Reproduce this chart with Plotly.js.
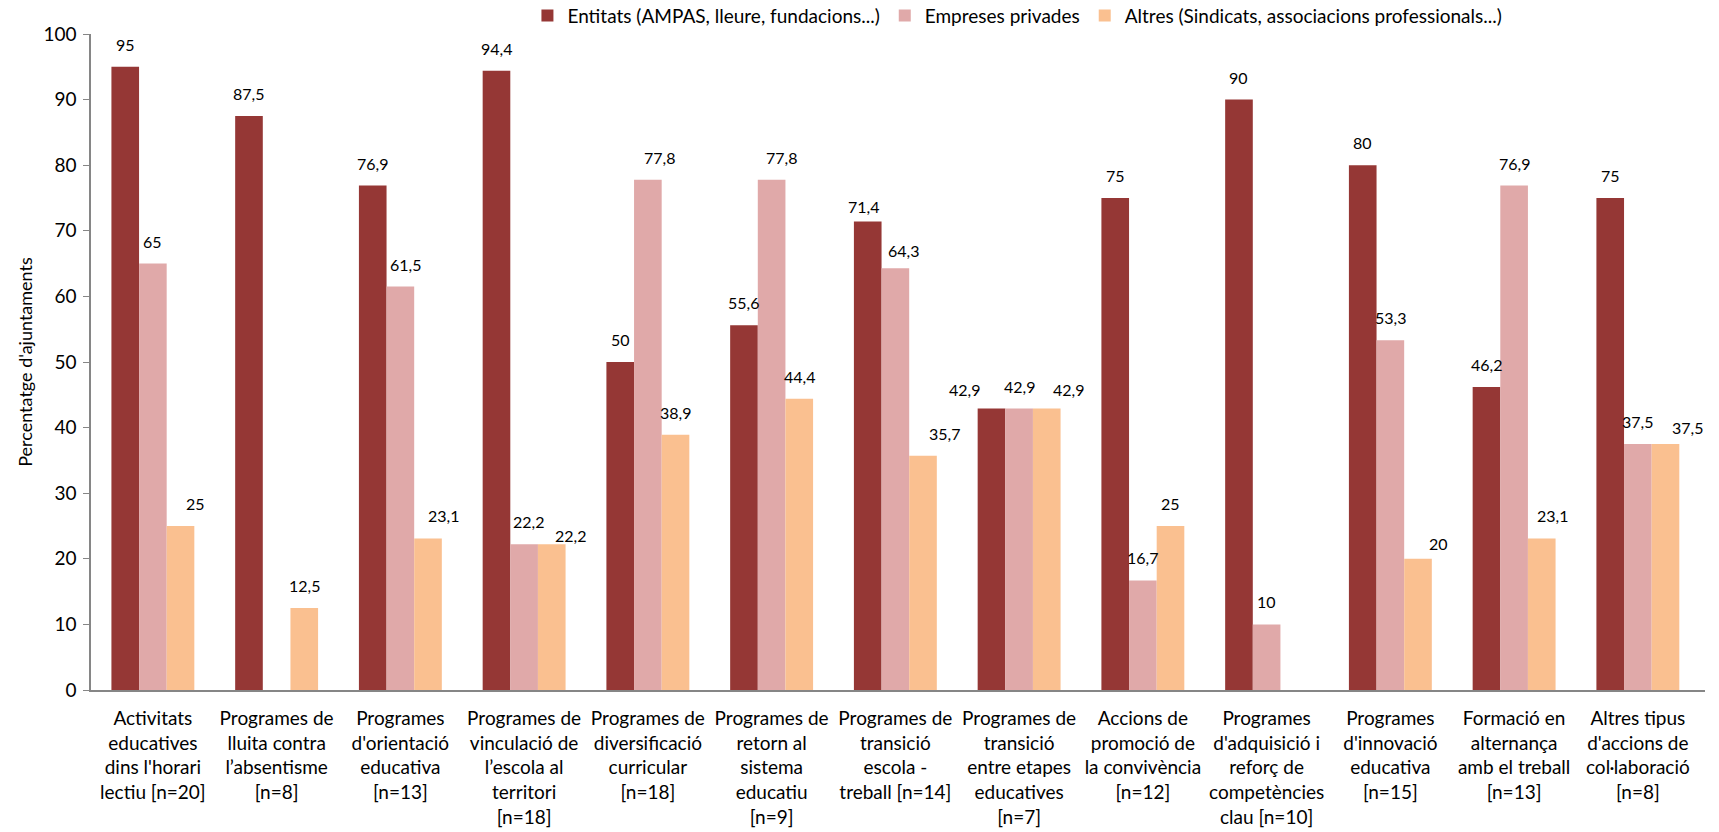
<!DOCTYPE html>
<html>
<head>
<meta charset="utf-8">
<script src="https://cdn.plot.ly/plotly-3.0.1.min.js"></script>
<style>html,body{margin:0;padding:0;background:#fff;}#chart{width:1719px;height:832px;}</style>
</head>
<body>
<div id="chart"></div>
<script>
const categories = [
  "Activitats<br>educatives<br>dins l'horari<br>lectiu [n=20]",
  "Programes de<br>lluita contra<br>l’absentisme<br>[n=8]",
  "Programes<br>d'orientació<br>educativa<br>[n=13]",
  "Programes de<br>vinculació de<br>l’escola al<br>territori<br>[n=18]",
  "Programes de<br>diversificació<br>curricular<br>[n=18]",
  "Programes de<br>retorn al<br>sistema<br>educatiu<br>[n=9]",
  "Programes de<br>transició<br>escola -<br>treball [n=14]",
  "Programes de<br>transició<br>entre etapes<br>educatives<br>[n=7]",
  "Accions de<br>promoció de<br>la convivència<br>[n=12]",
  "Programes<br>d'adquisició i<br>reforç de<br>competències<br>clau [n=10]",
  "Programes<br>d'innovació<br>educativa<br>[n=15]",
  "Formació en<br>alternança<br>amb el treball<br>[n=13]",
  "Altres tipus<br>d'accions de<br>col·laboració<br>[n=8]"
];
const seriesNames = [
  "Entitats (AMPAS, lleure, fundacions...)",
  "Empreses privades",
  "Altres (Sindicats, associacions professionals...)"
];
const entitats = [95, 87.5, 76.9, 94.4, 50, 55.6, 71.4, 42.9, 75, 90, 80, 46.2, 75];
const empreses = [65, null, 61.5, 22.2, 77.8, 77.8, 64.3, 42.9, 16.7, 10, 53.3, 76.9, 37.5];
const altres   = [25, 12.5, 23.1, 22.2, 38.9, 44.4, 35.7, 42.9, 25, null, 20, 23.1, 37.5];
const yTicks = [0, 10, 20, 30, 40, 50, 60, 70, 80, 90, 100];

// manual nudges of some data labels (pixels), keyed "category-series"
const labelNudge = {
  "0-2": [15, 0],
  "2-1": [5, 0], "2-2": [15, 0],
  "3-1": [4, 0], "3-2": [19, -14],
  "4-1": [12, 0],
  "5-1": [10, 0],
  "6-0": [-4, -7], "6-1": [8, -5], "6-2": [21, 0],
  "7-0": [-27, -3], "7-2": [22, -3],
  "10-2": [20, -7],
  "11-2": [11, 0],
  "12-2": [22, -6]
};

const colors = ["#953735", "#E0A9A9", "#FAC090"];
const FONT = "Lato, 'Open Sans', sans-serif";
const bargap = 0.33;
const allSeries = [entitats, empreses, altres];

const fmt = v => (v === null ? "" : String(v).replace(".", ","));

const traces = allSeries.map((vals, k) => ({
  type: "bar",
  name: seriesNames[k],
  x: categories,
  y: vals,
  marker: {color: colors[k], line: {width: 0}},
  hoverinfo: "y"
}));

const annotations = [];
allSeries.forEach((vals, k) => {
  vals.forEach((v, i) => {
    if (v === null) return;
    const n = labelNudge[i + "-" + k] || [0, 0];
    annotations.push({
      x: i + (k - 1) * (1 - bargap) / 3,
      y: v,
      xref: "x", yref: "y",
      text: fmt(v),
      showarrow: false,
      yanchor: "bottom",
      xshift: n[0],
      yshift: 11 + n[1],
      font: {family: FONT, size: 16, color: "#000"}
    });
  });
});

const layout = {
  width: 1719, height: 832,
  margin: {l: 91, r: 14, t: 34, b: 142, autoexpand: false},
  paper_bgcolor: "#fff", plot_bgcolor: "#fff",
  barmode: "group",
  bargap: bargap,
  bargroupgap: 0,
  font: {family: FONT, size: 18, color: "#000"},
  showlegend: true,
  legend: {
    orientation: "h",
    x: 0.574, xanchor: "center",
    y: 1.028, yanchor: "middle",
    font: {family: FONT, size: 19, color: "#000"},
    itemwidth: 30,
    bgcolor: "rgba(0,0,0,0)"
  },
  xaxis: {
    type: "category",
    showline: true, linecolor: "#868686", linewidth: 2,
    ticks: "", showgrid: false, zeroline: false,
    tickfont: {family: FONT, size: 19, color: "#000"},
    tickangle: 0,
    ticklabelstandoff: 10,
    automargin: false
  },
  yaxis: {
    range: [0, 100],
    tickvals: yTicks,
    ticktext: yTicks.map(String),
    showline: true, linecolor: "#868686", linewidth: 1.5,
    ticks: "outside", ticklen: 6, tickcolor: "#868686",
    showgrid: false, zeroline: false,
    tickfont: {family: FONT, size: 19, color: "#000"},
    ticklabelstandoff: 3,
    title: {text: "Percentatge d'ajuntaments", font: {family: FONT, size: 18, color: "#000"}, standoff: 6},
    automargin: false
  },
  annotations: annotations
};

Plotly.newPlot("chart", traces, layout, {displayModeBar: false, responsive: false});
</script>
</body>
</html>
